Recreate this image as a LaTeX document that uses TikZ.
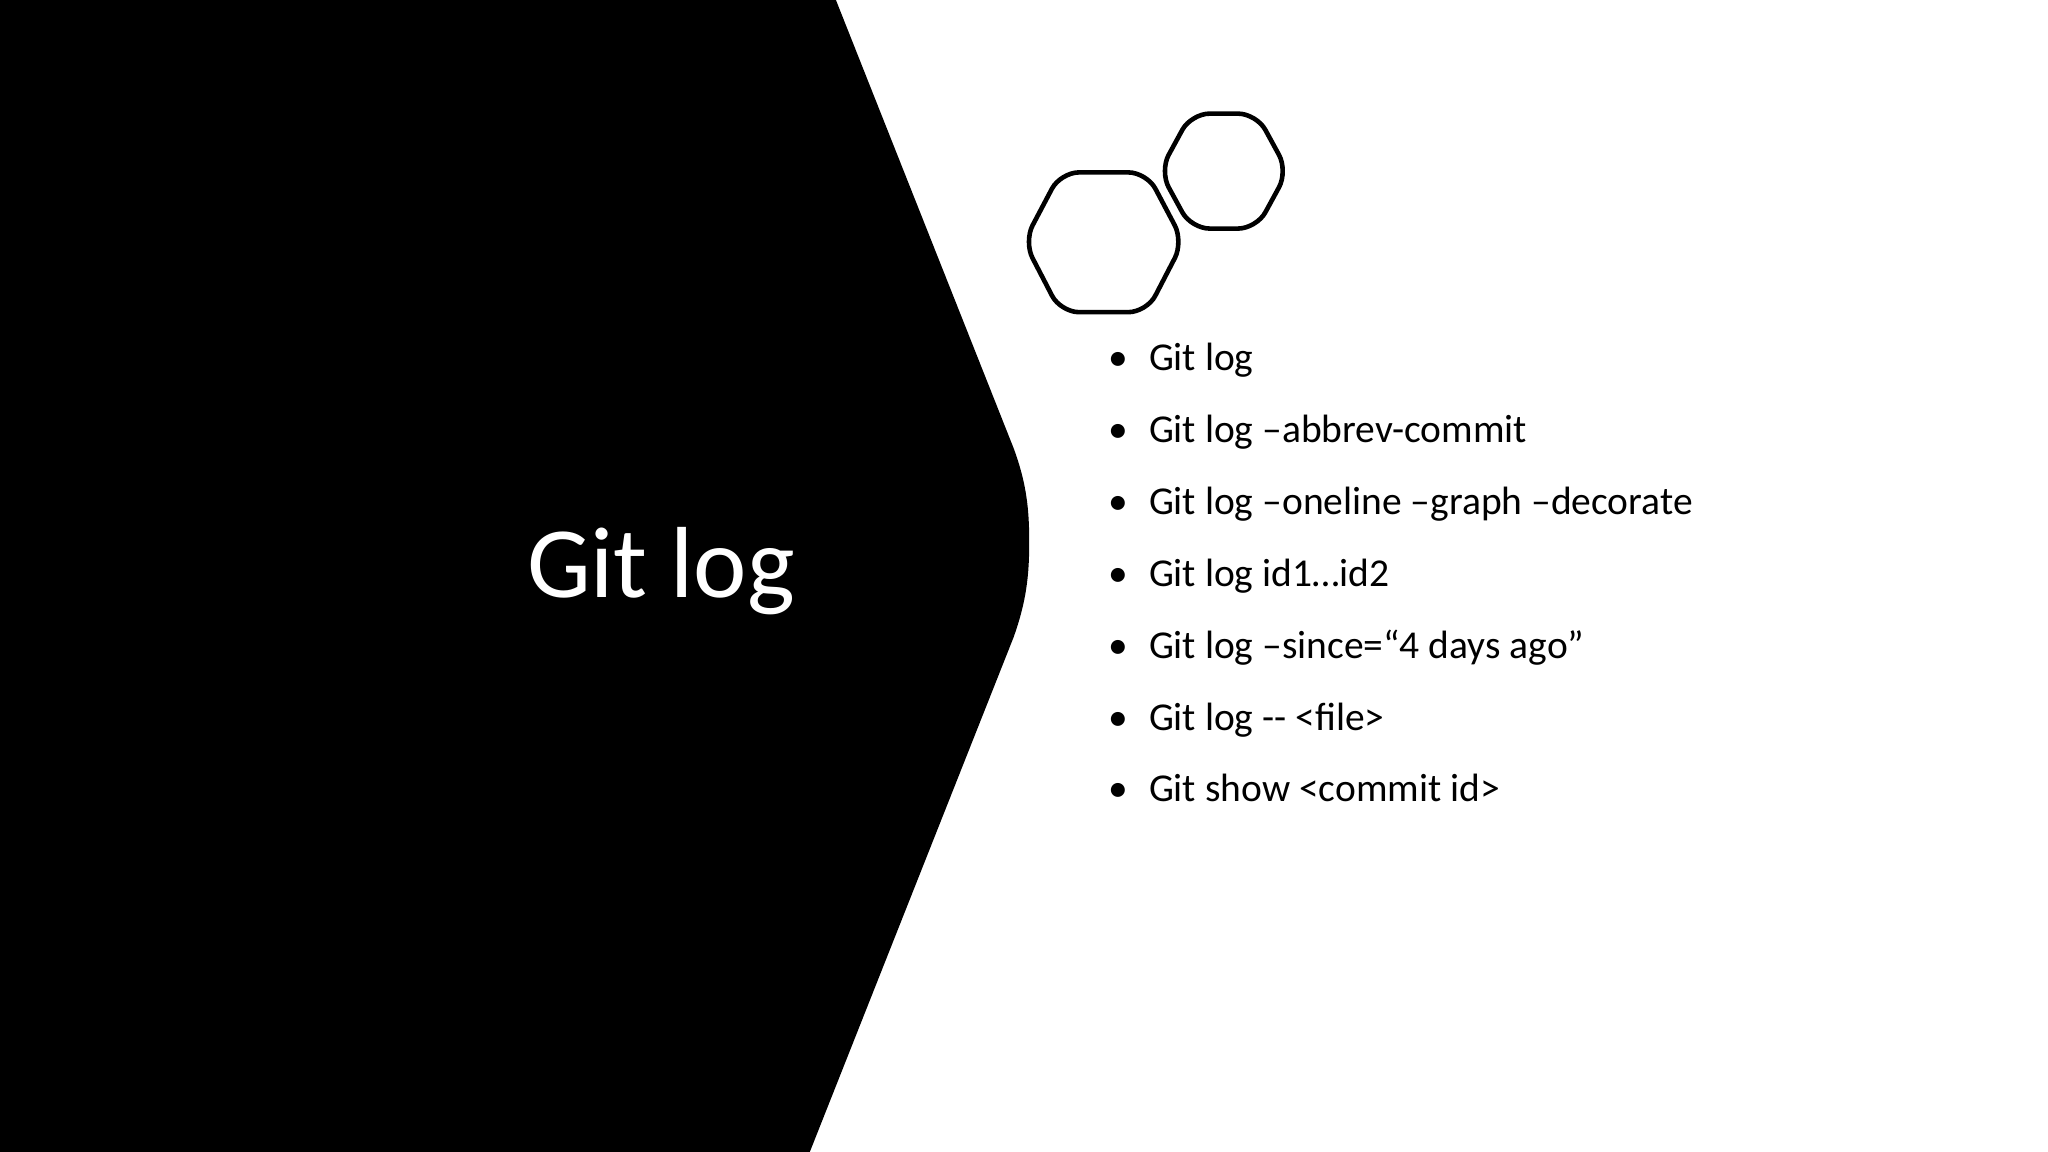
\documentclass[tikz,border=0pt]{standalone}
\usepackage{fontspec}
\setmainfont{Carlito}
\begin{document}
\begin{tikzpicture}[x=0.01cm,y=-0.01cm,
  hex/.style={draw=black,line width=1pt,rounded corners=4},
  item/.style={anchor=base west,font=\fontsize{8.6}{10}\selectfont,inner sep=0pt},
  bul/.style={anchor=base,font=\fontsize{8.6}{10}\selectfont,inner sep=0pt}]
\useasboundingbox (0,0) rectangle (1568,882);
\fill[white] (0,0) rectangle (1568,882);
\fill[black] (0,0) -- (640,0) -- (776,343) .. controls (786,370) and (788,390) .. (788,415) .. controls (788,440) and (786,460) .. (776,488) -- (620,882) -- (0,882) -- cycle;
\node[text=white,font=\fontsize{22}{26}\selectfont,inner sep=0pt] (title) at (506,437) {Git log};
\draw[hex] (784,185) -- (812,132) -- (878,132) -- (906,185) -- (878,239) -- (812,239) -- cycle;
\draw[hex] (888,131) -- (912,87) -- (962,87) -- (986,131) -- (962,175) -- (912,175) -- cycle;
\foreach \t [count=\i from 0] in {Git log,Git log –abbrev-commit,Git log –oneline –graph –decorate,Git log id1…id2,Git log –since=“4 days ago”,Git log -{}- <file>,Git show <commit id>}{
  \node[bul] (b\i) at (856,284+55*\i) {•};
  \node[item] (t\i) at (879,284+55*\i) {\t};
}
\end{tikzpicture}
\end{document}
